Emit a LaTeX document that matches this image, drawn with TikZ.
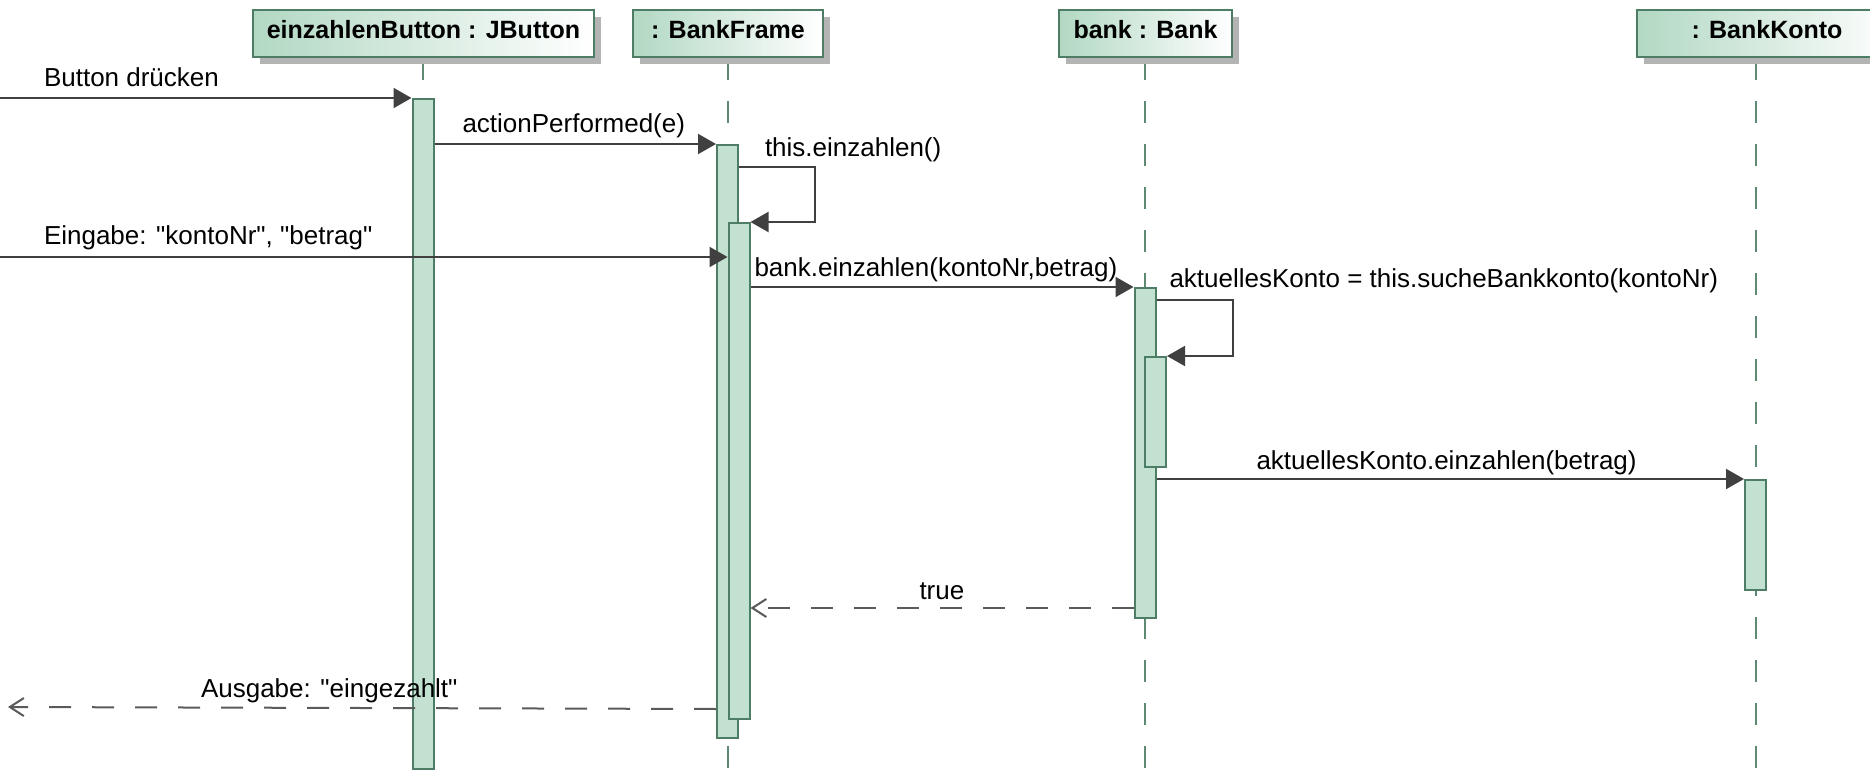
\documentclass[tikz,border=0pt]{standalone}
\usepackage{fontspec}
\setmainfont{Liberation Sans}[Ligatures=TeXOff]
\usetikzlibrary{arrows.meta,positioning,shadows,calc}
\pgfdeclarelayer{background}
\pgfsetlayers{background,main}
\definecolor{barfill}{RGB}{194,225,209}
\definecolor{barline}{RGB}{78,125,102}
\definecolor{headfill}{RGB}{178,216,195}
\definecolor{lifeline}{RGB}{94,138,116}
\definecolor{msgline}{RGB}{64,64,64}
\definecolor{retline}{RGB}{90,90,90}
\definecolor{headshadow}{RGB}{180,180,180}
\newcommand{\lblfont}{\fontsize{26}{30}\selectfont}
\newcommand{\headfont}{\fontsize{25}{30}\selectfont\bfseries}

\begin{document}
\begin{tikzpicture}[x=1pt,y=-1pt,on grid,
    head/.style={draw=barline,line width=2pt,left color=headfill,right color=white,
      minimum height=47pt,inner sep=0pt,text height=18pt,text depth=8pt,font=\headfont,
      drop shadow={shadow xshift=7pt,shadow yshift=-7pt,fill=headshadow,opacity=1}},
    bar/.style={draw=barline,fill=barfill,line width=2pt,minimum width=21pt,inner sep=0pt,anchor=north},
    life/.style={lifeline,line width=2pt,dash pattern=on 22pt off 21pt},
    msg/.style={msgline,line width=2pt,-{Triangle[length=18pt,width=20pt]}},
    ret/.style={retline,line width=2pt,dash pattern=on 22pt off 21pt,-{Straight Barb[length=14pt,width=18pt]}},
    lbl/.style={anchor=base west,inner sep=0pt,text=black,font=\lblfont}]
   \useasboundingbox (0,0) rectangle (1870,775);
   % object heads
   \node[head,minimum width=341pt] (btn) at (423.5,33.5) {einzahlenButton : JButton};
   \node[head,minimum width=190pt] (frame) [right=304.5pt of btn] {: BankFrame};
   \node[head,minimum width=173pt] (bank) [right=417.5pt of frame] {bank : Bank};
   \node[head,minimum width=260pt] (konto) [right=621.5pt of bank] {: BankKonto};
   % activations
   \node[bar,minimum height=670pt] (btnbar) at (423,98) {};
   \node[bar,minimum height=593pt] (framebar1) at (727.5,144) {};
   \node[bar,minimum height=496pt] (framebar2) at (739,222) {};
   \node[bar,minimum height=330pt] (bankbar1) at (1145,287) {};
   \node[bar,minimum height=110pt] (bankbar2) at (1155.5,356) {};
   \node[bar,minimum height=110pt] (kontobar) at (1755.5,479) {};
   \begin{pgfonlayer}{background}
     \foreach \h/\b in {btn/btnbar,frame/framebar1,bank/bankbar1,konto/kontobar}
       \draw[life] (\b.north |- \h.south) -- (\b.north |- 0,775);
   \end{pgfonlayer}
   \coordinate (usr1) at (0,98);
   \coordinate (usr2) at (0,257);
   \coordinate (usr3) at (8,707);
   \coordinate (tr) at ($(bankbar1.south west)+(0,-11)$);
   \coordinate (aus) at ($(framebar2.south west)+(0,-11)$);
   % calls
   \path[msg]
    (usr1) edge node[lbl,at start,xshift=43pt,yshift=11pt] {Button drücken} (btnbar.north west)
    (btnbar.east |- framebar1.north) edge node[lbl,at start,xshift=27pt,yshift=11pt] {actionPerformed(e)} (framebar1.north west)
    (usr2) edge node[lbl,at start,xshift=43pt,yshift=12pt] {Eingabe: "kontoNr", "betrag"} (framebar2.west |- usr2)
    (framebar2.east |- bankbar1.north) edge node[lbl,at start,xshift=3pt,yshift=10pt] {bank.einzahlen(kontoNr,betrag)} (bankbar1.north west)
    (bankbar1.east |- kontobar.north) edge node[lbl,at start,xshift=99pt,yshift=10pt] {aktuellesKonto.einzahlen(betrag)} (kontobar.north west);
   \draw[msg] ($(framebar1.north east)+(0,23)$) -- node[lbl,at start,xshift=25pt,yshift=10pt] {this.einzahlen()} ++(76,0) |- (framebar2.north east);
   \draw[msg] ($(bankbar1.north east)+(0,13)$) -- node[lbl,at start,xshift=12pt,yshift=12pt] {aktuellesKonto = this.sucheBankkonto(kontoNr)} ++(76,0) |- (bankbar2.north east);
   % replies
   \path[ret]
    (tr) edge node[lbl,at end,xshift=168pt,yshift=9pt] {true} (framebar2.east |- tr)
    (framebar1.west |- aus) edge node[lbl,at end,xshift=192pt,yshift=10pt] {Ausgabe: "eingezahlt"} (usr3);
\end{tikzpicture}
\end{document}
